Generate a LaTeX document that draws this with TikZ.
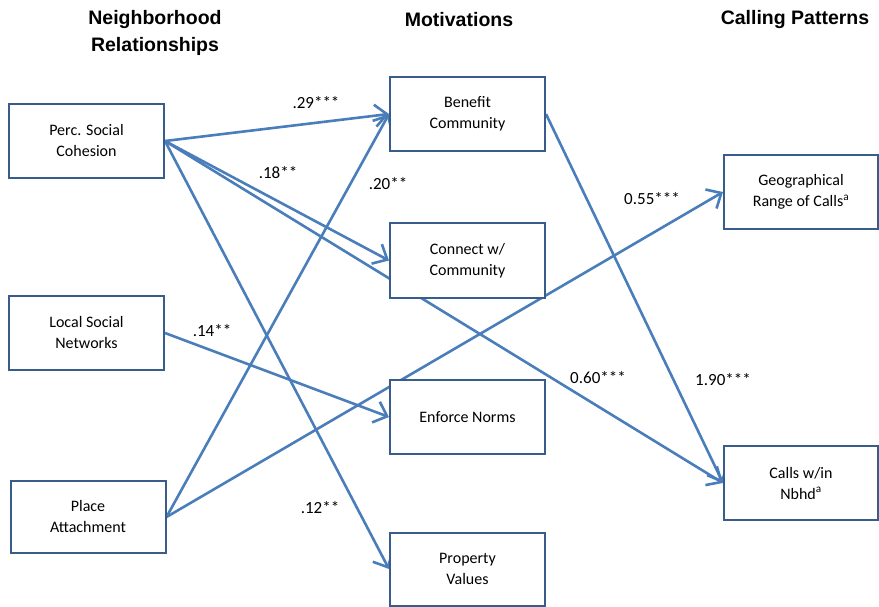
\documentclass[tikz,border=0pt]{standalone}
\usepackage{fontspec}
\setmainfont{Carlito}
\newfontfamily\headfont{Liberation Sans}
\usetikzlibrary{arrows.meta,backgrounds}
\definecolor{linkblue}{RGB}{74,126,187}
\definecolor{boxblue}{RGB}{56,93,138}
\tikzset{
  box/.style={draw=boxblue, line width=2pt, fill=white, minimum width=155pt,
    minimum height=74pt, align=center, font=\fontsize{16}{21}\selectfont},
  link/.style={draw=linkblue, line width=2.6pt,
    arrows={-Straight Barb[length=12pt,width=22pt]}},
  coef/.style={font=\fontsize{17}{20}\selectfont},
  head/.style={font=\headfont\bfseries\fontsize{19.5}{27}\selectfont, align=center}
}

\begin{document}
\begin{tikzpicture}[x=1pt,y=-1pt]
		%%%%% START %%%%%
		\useasboundingbox (0,0) rectangle (879,607);
		
		\node[head] (hrel) at (155,33) {Neighborhood\\Relationships};
		\node[head] (hmot) at (459,20) {Motivations};
		\node[head] (hcall) at (795,20) {Calling Patterns};
		
		\node[box] (perc) at (86.5,141) {Perc. Social\\Cohesion};
		\node[box] (local) at (86.5,333) {Local Social\\Networks};
		\node[box, minimum height=72pt] (place) at (88,517) {Place\\Attachment};
		
		\node[box] (benefit) at (467.5,114) {Benefit\\Community};
		\node[box] (connect) at (467.5,260.5) {Connect w/\\Community};
		\node[box] (enforce) at (467.5,417) {Enforce Norms};
		\node[box, minimum height=73pt] (property) at (467.5,569) {Property\\Values};
		
		\node[box, minimum width=154pt] (geo) at (801,192) {Geographical\\Range of Calls\textsuperscript{a}};
		\node[box, minimum width=154pt] (calls) at (801,483) {Calls w/in\\Nbhd\textsuperscript{a}};
		
		\begin{scope}[on background layer]
		\draw[link] (perc.east) -- (benefit.west);
		\draw[link] (perc.east) -- (connect.west);
		\draw[link] (perc.east) -- (property.west);
		\draw[link] (perc.east) -- (calls.west);
		\draw[link] (local.east) -- (enforce.west);
		\draw[link] (place.east) -- (benefit.west);
		\draw[link] (place.east) -- (geo.west);
		\draw[link] (benefit.east) -- (calls.west);
		\end{scope}
		
		\node[coef] (c29) at (316,103) {.29***};
		\node[coef] (c18) at (278,173) {.18**};
		\node[coef] (c20) at (388,184) {.20**};
		\node[coef] (c14) at (212,331) {.14**};
		\node[coef] (c12) at (320,508) {.12**};
		\node[coef] (c55) at (652,199) {0.55***};
		\node[coef] (c60) at (598,378) {0.60***};
		\node[coef] (c190) at (723,380) {1.90***};
		%%%%% END %%%%%
	\end{tikzpicture}
\end{document}
